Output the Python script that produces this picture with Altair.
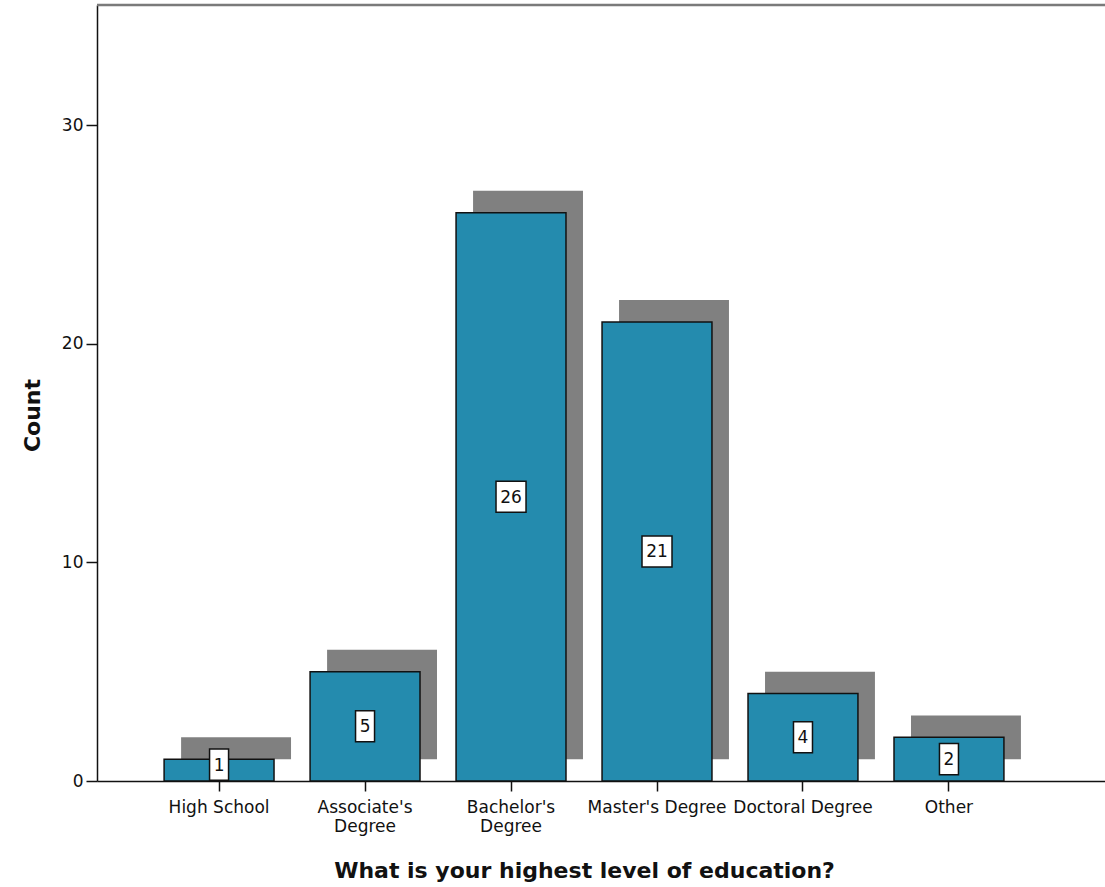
import altair as alt
import pandas as pd

categories = ["High School", "Associate's Degree", "Bachelor's Degree",
              "Master's Degree", "Doctoral Degree", "Other"]
counts = [1, 5, 26, 21, 4, 2]

df = pd.DataFrame({"cat": categories, "count": counts})

FONT = "DejaVu Sans"
BAR = "#248BAE"

x_enc = alt.X(
    "cat:N", sort=categories,
    scale=alt.Scale(paddingInner=0.247, paddingOuter=0.576, align=0.399),
    axis=alt.Axis(
        title="What is your highest level of education?",
        labelAngle=0, labelFont=FONT, labelFontSize=17, labelColor="#111",
        labelExpr="test(/Associate|Bachelor/, datum.label) ? split(datum.label, ' ') : datum.label",
        labelLineHeight=19, labelPadding=8, labelBaseline="top",
        tickSize=10, tickColor="#111", tickWidth=1.5,
        domainColor="#111", domainWidth=1.5,
        titleFont=FONT, titleFontSize=22, titleFontWeight="bold", titleColor="#111",
        titleX=487, titleY=96, titleBaseline="alphabetic", titleAlign="center",
    ),
)
yscale = alt.Scale(domain=[0, 35.5], nice=False, zero=True)
y_axis = alt.Axis(
    title="Count", values=[0, 10, 20, 30], grid=False,
    labelFont=FONT, labelFontSize=17, labelColor="#111", labelPadding=3,
    tickSize=11, tickColor="#111", tickWidth=1.5,
    domainColor="#111", domainWidth=1.5,
    titleFont=FONT, titleFontSize=22, titleFontWeight="bold", titleColor="#111",
    titleX=-58, titleY=410, titleAngle=270, titleBaseline="alphabetic", titleAlign="center",
)

base = alt.Chart(df)

shadow = base.transform_calculate(
    top="datum.count + 1", bot="1"
).mark_bar(color="#808080", xOffset=17).encode(
    x=x_enc,
    y=alt.Y("top:Q", scale=yscale, axis=y_axis),
    y2="bot:Q",
)

bars = base.mark_bar(color=BAR, stroke="#111", strokeWidth=1.5).encode(
    x=alt.X("cat:N", sort=categories),
    y=alt.Y("count:Q", scale=yscale),
)

label_calc = base.transform_calculate(
    mid="max(datum.count / 2, 0.75)",
    lo="max(datum.count / 2, 0.75) - 0.71",
    hi="max(datum.count / 2, 0.75) + 0.71",
    ndig="length(toString(datum.count))",
)

box1 = label_calc.transform_filter("datum.ndig == 1").mark_bar(
    width=19, color="white", stroke="#111", strokeWidth=1.5
).encode(x=alt.X("cat:N", sort=categories), y=alt.Y("lo:Q", scale=yscale), y2="hi:Q")

box2 = label_calc.transform_filter("datum.ndig == 2").mark_bar(
    width=30, color="white", stroke="#111", strokeWidth=1.5
).encode(x=alt.X("cat:N", sort=categories), y=alt.Y("lo:Q", scale=yscale), y2="hi:Q")

text = label_calc.mark_text(font=FONT, fontSize=17, color="#111", baseline="middle", dy=1).encode(
    x=alt.X("cat:N", sort=categories),
    y=alt.Y("mid:Q", scale=yscale),
    text="count:Q",
)

top_line = alt.Chart(pd.DataFrame({"a": [0]})).mark_rule(color="#7a7a7a", strokeWidth=2.5).encode(
    x=alt.value(0), x2=alt.value(1008), y=alt.value(0)
)

chart = alt.layer(shadow, bars, box1, box2, text, top_line).properties(
    width=1008, height=776,
    autosize=alt.AutoSizeParams(type="none"),
    padding={"left": 97, "top": 5, "right": 0, "bottom": 106},
).configure_view(stroke=None, fill="#F0F0F0").configure(background="white")

chart.save("out.html", embed_options={"renderer": "svg", "actions": False})
